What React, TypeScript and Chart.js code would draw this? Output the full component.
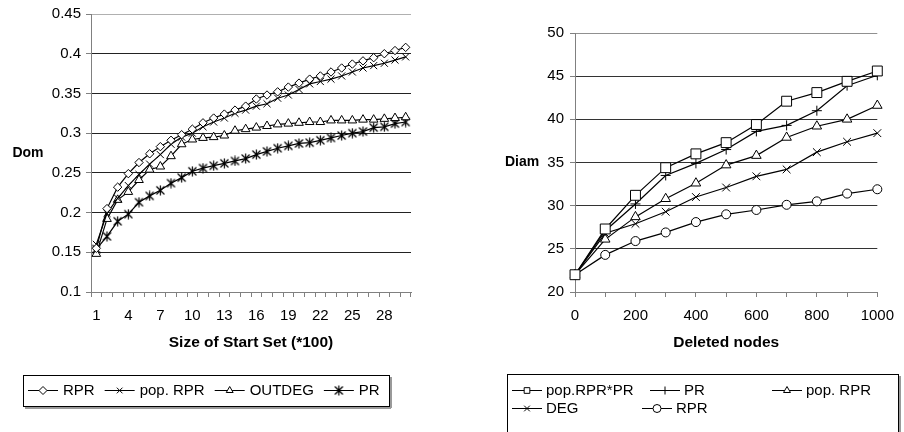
import React, { useEffect, useRef } from 'react';
import { Chart, registerables } from 'chart.js';
import { drawPoint } from 'chart.js/helpers';

Chart.register(...registerables);

// ---------- Left chart data ----------
const startSetSizes = ['1','2','3','4','5','6','7','8','9','10','11','12','13','14','15','16','17','18','19','20','21','22','23','24','25','26','27','28','29','30'];
const domRPR = [0.155, 0.205, 0.232, 0.249, 0.263, 0.274, 0.283, 0.291, 0.298, 0.305, 0.313, 0.319, 0.324, 0.329, 0.334, 0.343, 0.348, 0.352, 0.358, 0.363, 0.368, 0.372, 0.377, 0.382, 0.387, 0.391, 0.395, 0.400, 0.404, 0.408];
const domPopRPR = [0.160, 0.199, 0.218, 0.234, 0.248, 0.261, 0.273, 0.286, 0.295, 0.300, 0.308, 0.314, 0.319, 0.325, 0.329, 0.334, 0.337, 0.344, 0.348, 0.355, 0.362, 0.365, 0.368, 0.372, 0.377, 0.382, 0.385, 0.388, 0.392, 0.396];
const domOutdeg = [0.148, 0.192, 0.216, 0.226, 0.241, 0.254, 0.258, 0.271, 0.286, 0.292, 0.294, 0.295, 0.297, 0.303, 0.305, 0.307, 0.309, 0.311, 0.312, 0.313, 0.314, 0.314, 0.316, 0.316, 0.316, 0.317, 0.317, 0.318, 0.319, 0.320];
const domPR = [0.154, 0.170, 0.189, 0.198, 0.213, 0.221, 0.228, 0.237, 0.244, 0.252, 0.256, 0.259, 0.262, 0.265, 0.268, 0.273, 0.277, 0.281, 0.284, 0.287, 0.288, 0.291, 0.294, 0.297, 0.300, 0.302, 0.307, 0.308, 0.312, 0.314];
const domTicks = { min: 0.1, max: 0.45, step: 0.05 };

// ---------- Right chart data ----------
const deletedNodes = [0, 100, 200, 300, 400, 500, 600, 700, 800, 900, 1000];
const diamPopRPRxPR = [22, 27.3, 31.2, 34.4, 36.0, 37.3, 39.4, 42.1, 43.1, 44.4, 45.6];
const diamPR = [22, 27.1, 30.2, 33.5, 34.9, 36.5, 38.6, 39.3, 41.0, 43.9, 45.1];
const diamPopRPR = [22, 26.1, 28.7, 30.8, 32.6, 34.7, 35.8, 37.9, 39.2, 40.0, 41.6];
const diamDEG = [22, 26.8, 27.9, 29.3, 31.0, 32.1, 33.4, 34.2, 36.2, 37.4, 38.4];
const diamRPR = [22, 24.3, 25.9, 26.9, 28.1, 29.0, 29.5, 30.1, 30.5, 31.4, 31.9];
const diamTicks = { min: 20, max: 50, step: 5 };

const FONT = '"Liberation Sans", Arial, sans-serif';

function makeAsterisk(): HTMLCanvasElement {
  const c = document.createElement('canvas');
  c.width = 11; c.height = 11;
  const g = c.getContext('2d')!;
  g.strokeStyle = '#000';
  g.lineWidth = 1.2;
  g.beginPath();
  g.moveTo(1.5, 1.5); g.lineTo(9.5, 9.5);
  g.moveTo(9.5, 1.5); g.lineTo(1.5, 9.5);
  g.moveTo(5.5, 0.5); g.lineTo(5.5, 10.5);
  g.stroke();
  return c;
}

function ds(label: string, data: any[], pointStyle: any, radius: number) {
  return {
    label, data, pointStyle,
    pointRadius: radius,
    pointBackgroundColor: '#fff',
    pointBorderColor: '#000',
    pointBorderWidth: 1,
    borderColor: '#000',
    borderWidth: 1.2,
    tension: 0,
    fill: false,
    clip: false,
  };
}

type Slot = { x: number; y: number };

function drawLegendItem(ctx: CanvasRenderingContext2D, d: any, x: number, y: number, lineLen: number, textOff: number) {
  ctx.strokeStyle = '#000';
  ctx.lineWidth = 1;
  ctx.beginPath();
  ctx.moveTo(x, y + 0.5);
  ctx.lineTo(x + lineLen, y + 0.5);
  ctx.stroke();
  ctx.fillStyle = '#fff';
  ctx.strokeStyle = '#000';
  drawPoint(ctx, { pointStyle: d.pointStyle, radius: Math.min(d.pointRadius, 4), rotation: 0, borderWidth: 1 } as any, x + lineLen / 2, y + 0.5);
  ctx.fillStyle = '#000';
  ctx.fillText(d.label, x + textOff, y + 1);
  return ctx.measureText(d.label).width;
}

function drawBox(ctx: CanvasRenderingContext2D, box: { x: number; y: number; w: number; h: number }) {
  ctx.fillStyle = '#9a9a9a';
  ctx.fillRect(box.x + 2, box.y + box.h + 1, box.w, 2);
  ctx.fillRect(box.x + box.w + 1, box.y + 2, 2, box.h);
  ctx.strokeStyle = '#000';
  ctx.lineWidth = 1;
  ctx.strokeRect(box.x + 0.5, box.y + 0.5, box.w, box.h);
}

// Sequential one-row legend
function rowLegendPlugin(box: { x: number; y: number; w: number; h: number }, startX: number, rowY: number, gap: number, fontSize: number) {
  return {
    id: 'rowLegend',
    afterDraw(chart: any) {
      const ctx = chart.ctx as CanvasRenderingContext2D;
      ctx.save();
      drawBox(ctx, box);
      ctx.font = `${fontSize}px ${FONT}`;
      ctx.textBaseline = 'middle';
      ctx.textAlign = 'left';
      let x = startX;
      chart.data.datasets.forEach((d: any) => {
        const w = drawLegendItem(ctx, d, x, rowY, 30, 35);
        x += 35 + w + gap;
      });
      ctx.restore();
    },
  };
}

// Fixed-slot legend
function slotLegendPlugin(box: { x: number; y: number; w: number; h: number }, slots: Slot[], fontSize: number) {
  return {
    id: 'slotLegend',
    afterDraw(chart: any) {
      const ctx = chart.ctx as CanvasRenderingContext2D;
      ctx.save();
      drawBox(ctx, box);
      ctx.font = `${fontSize}px ${FONT}`;
      ctx.textBaseline = 'middle';
      ctx.textAlign = 'left';
      chart.data.datasets.forEach((d: any, i: number) => {
        const s = slots[i];
        if (s) drawLegendItem(ctx, d, s.x, s.y, 30, 34);
      });
      ctx.restore();
    },
  };
}

function titlesPlugin(yTitle: string, yTitleX: number, xTitle: string, xTitleY: number) {
  return {
    id: 'axisTitles',
    afterDraw(chart: any) {
      const ctx = chart.ctx as CanvasRenderingContext2D;
      const a = chart.chartArea;
      ctx.save();
      ctx.fillStyle = '#000';
      ctx.textAlign = 'center';
      ctx.textBaseline = 'middle';
      ctx.font = `bold 14px ${FONT}`;
      ctx.fillText(yTitle, yTitleX, (a.top + a.bottom) / 2);
      ctx.font = `bold 15.5px ${FONT}`;
      ctx.fillText(xTitle, (a.left + a.right) / 2, xTitleY);
      ctx.restore();
    },
  };
}

const tickFont = { family: FONT, size: 15 };

export default function App() {
  const leftRef = useRef<HTMLCanvasElement>(null);
  const rightRef = useRef<HTMLCanvasElement>(null);

  useEffect(() => {
    const asterisk = makeAsterisk();

    const left = new Chart(leftRef.current!, {
      type: 'line',
      data: {
        labels: startSetSizes,
        datasets: [
          ds('RPR', domRPR, 'rectRot', 4.2),
          ds('pop. RPR', domPopRPR, 'crossRot', 5),
          ds('OUTDEG', domOutdeg, 'triangle', 5),
          ds('PR', domPR, asterisk, 5),
        ],
      },
      options: {
        responsive: false,
        devicePixelRatio: 1,
        animation: false,
        layout: { padding: { left: 0, right: 39, top: 12, bottom: 100 } },
        plugins: { legend: { display: false }, tooltip: { enabled: false } },
        scales: {
          x: {
            type: 'category',
            offset: true,
            grid: { display: true, drawOnChartArea: false, drawTicks: true, tickLength: 5, offset: true, color: '#808080' },
            border: { display: true, color: '#808080' },
            ticks: {
              autoSkip: false, maxRotation: 0, padding: 10, color: '#000', font: tickFont,
              callback: (_v: any, i: number) => (i % 3 === 0 ? startSetSizes[i] : ''),
            },
            afterFit: (s: any) => { s.height = 40; },
          },
          y: {
            min: domTicks.min, max: domTicks.max,
            grid: {
              color: (c: any) => (c.tick && Math.abs(c.tick.value - domTicks.max) < 1e-6 ? '#b0b0b0' : (Math.abs(c.tick.value - domTicks.min) < 1e-6 ? '#808080' : '#222')),
              tickColor: '#808080', tickLength: 5, lineWidth: 1,
            },
            border: { display: true, color: '#808080' },
            ticks: {
              stepSize: domTicks.step, padding: 5, color: '#000', font: tickFont,
              callback: (v: any) => String(Math.round(Number(v) * 100) / 100),
            },
            afterFit: (s: any) => { s.width = 91; },
          },
        },
      } as any,
      plugins: [
        titlesPlugin('Dom', 28, 'Size of Start Set (*100)', 343),
        rowLegendPlugin({ x: 23, y: 375, w: 366, h: 31 }, 28, 390, 10, 15),
      ],
    });

    const mk = (arr: number[]) => deletedNodes.map((x, i) => ({ x, y: arr[i] }));
    const right = new Chart(rightRef.current!, {
      type: 'line',
      data: {
        datasets: [
          ds('pop.RPR*PR', mk(diamPopRPRxPR), 'rect', 7),
          ds('PR', mk(diamPR), 'cross', 5),
          ds('pop. RPR', mk(diamPopRPR), 'triangle', 5.5),
          ds('DEG', mk(diamDEG), 'crossRot', 5.5),
          ds('RPR', mk(diamRPR), 'circle', 4.5),
        ],
      },
      options: {
        responsive: false,
        devicePixelRatio: 1,
        animation: false,
        layout: { padding: { left: 0, right: 16, top: 33, bottom: 100 } },
        plugins: { legend: { display: false }, tooltip: { enabled: false } },
        scales: {
          x: {
            type: 'linear', min: 0, max: 1000,
            grid: { display: true, drawOnChartArea: false, drawTicks: true, tickLength: 5, color: '#808080' },
            border: { display: true, color: '#808080' },
            ticks: {
              stepSize: 100, autoSkip: false, maxRotation: 0, padding: 10, color: '#000', font: tickFont,
              callback: (v: any) => (Number(v) % 200 === 0 ? String(v) : ''),
            },
            afterFit: (s: any) => { s.height = 40; },
          },
          y: {
            min: diamTicks.min, max: diamTicks.max,
            grid: {
              color: (c: any) => (c.tick && c.tick.value === diamTicks.max ? '#909090' : (c.tick && c.tick.value === diamTicks.min ? '#808080' : '#333')),
              tickColor: '#808080', tickLength: 5, lineWidth: 1,
            },
            border: { display: true, color: '#808080' },
            ticks: { stepSize: diamTicks.step, padding: 6, color: '#000', font: tickFont },
            afterFit: (s: any) => { s.width = 135; },
          },
        },
      } as any,
      plugins: [
        titlesPlugin('Diam', 82, 'Deleted nodes', 343),
        slotLegendPlugin({ x: 67, y: 374, w: 391, h: 70 }, [
          { x: 72, y: 390 }, { x: 210, y: 390 }, { x: 332, y: 390 },
          { x: 72, y: 408 }, { x: 202, y: 408 },
        ], 15),
      ],
    });

    return () => { left.destroy(); right.destroy(); };
  }, []);

  return (
    <div style={{ position: 'fixed', left: 0, top: 0, width: 904, height: 432, background: '#fff' }}>
      <canvas ref={leftRef} width={450} height={432} style={{ position: 'absolute', left: 0, top: 0 }} />
      <canvas ref={rightRef} width={464} height={432} style={{ position: 'absolute', left: 440, top: 0 }} />
    </div>
  );
}
